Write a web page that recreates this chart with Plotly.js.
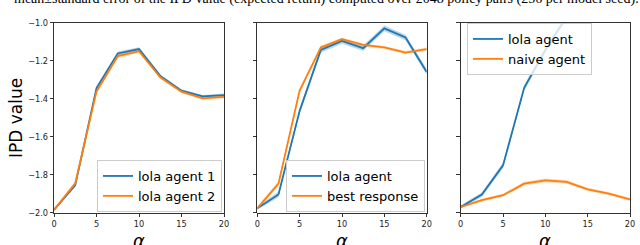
<!DOCTYPE html>
<html>
<head>
<meta charset="utf-8">
<script src="https://cdn.plot.ly/plotly-3.0.1.min.js"></script>
<style>html,body{margin:0;padding:0;background:#fff;}#chart{width:640px;height:245px;}</style>
</head>
<body>
<div id="chart"></div>
<script>
// alpha values (x axis)
const alphaVals = [0, 2.5, 5, 7.5, 10, 12.5, 15, 17.5, 20];

// Panel 1: lola vs lola
const p1Agent1 = [-1.985, -1.855, -1.344, -1.162, -1.139, -1.280, -1.358, -1.388, -1.381];
const p1Agent1Err = [0.006, 0.010, 0.010, 0.010, 0.010, 0.008, 0.008, 0.008, 0.008];
const p1Agent2 = [-1.985, -1.845, -1.362, -1.176, -1.150, -1.287, -1.363, -1.398, -1.390];
const p1Agent2Err = [0.006, 0.010, 0.010, 0.010, 0.010, 0.008, 0.008, 0.008, 0.008];

// Panel 2: lola vs best response
const p2Lola = [-1.977, -1.904, -1.464, -1.143, -1.096, -1.134, -1.030, -1.078, -1.259];
const p2LolaErr = [0.008, 0.015, 0.015, 0.015, 0.015, 0.015, 0.015, 0.015, 0.015];
const p2Best = [-1.977, -1.847, -1.357, -1.130, -1.087, -1.117, -1.130, -1.157, -1.139];
const p2BestErr = [0.008, 0.012, 0.010, 0.010, 0.008, 0.008, 0.008, 0.008, 0.008];

// Panel 3: lola vs naive
const p3Lola = [-1.970, -1.904, -1.751, -1.343, -1.144, -0.970, -0.850, -0.760, -0.700];
const p3LolaErr = [0.008, 0.012, 0.015, 0.015, 0.015, 0.015, 0.015, 0.015, 0.015];
const p3Naive = [-1.970, -1.934, -1.908, -1.847, -1.830, -1.838, -1.877, -1.900, -1.930];
const p3NaiveErr = [0.006, 0.008, 0.008, 0.010, 0.010, 0.010, 0.008, 0.008, 0.008];

const xTicks = [0, 5, 10, 15, 20];
const yTicks = [-2.0, -1.8, -1.6, -1.4, -1.2, -1.0];
const yTickText = ['\u22122.0', '\u22121.8', '\u22121.6', '\u22121.4', '\u22121.2', '\u22121.0'];

const labels = {
  p1: ['lola agent 1', 'lola agent 2'],
  p2: ['lola agent', 'best response'],
  p3: ['lola agent', 'naive agent']
};
const titleText = 'mean\u00B1standard error of the IPD value (expected return) computed over 2048 policy pairs (256 per model seed).';

const BLUE = '#1f77b4', ORANGE = '#ff7f0e';
const BLUE_F = 'rgba(31,119,180,0.3)', ORANGE_F = 'rgba(255,127,14,0.3)';

function band(y, e, xa, ya, fill) {
  const lo = y.map((v, i) => v - e[i]);
  const hi = y.map((v, i) => v + e[i]);
  return [
    {x: alphaVals, y: lo, xaxis: xa, yaxis: ya, mode: 'lines', line: {width: 0, color: fill}, showlegend: false, hoverinfo: 'skip'},
    {x: alphaVals, y: hi, xaxis: xa, yaxis: ya, mode: 'lines', line: {width: 0, color: fill}, fill: 'tonexty', fillcolor: fill, showlegend: false, hoverinfo: 'skip'}
  ];
}
function line(y, xa, ya, color, name, leg) {
  return {x: alphaVals, y: y, xaxis: xa, yaxis: ya, mode: 'lines', line: {color: color, width: 1.8}, name: name, legend: leg, showlegend: true};
}

const data = [].concat(
  band(p1Agent1, p1Agent1Err, 'x', 'y', BLUE_F),
  band(p1Agent2, p1Agent2Err, 'x', 'y', ORANGE_F),
  [line(p1Agent1, 'x', 'y', BLUE, labels.p1[0], 'legend'), line(p1Agent2, 'x', 'y', ORANGE, labels.p1[1], 'legend')],
  band(p2Lola, p2LolaErr, 'x2', 'y2', BLUE_F),
  band(p2Best, p2BestErr, 'x2', 'y2', ORANGE_F),
  [line(p2Lola, 'x2', 'y2', BLUE, labels.p2[0], 'legend2'), line(p2Best, 'x2', 'y2', ORANGE, labels.p2[1], 'legend2')],
  band(p3Lola, p3LolaErr, 'x3', 'y3', BLUE_F),
  band(p3Naive, p3NaiveErr, 'x3', 'y3', ORANGE_F),
  [line(p3Lola, 'x3', 'y3', BLUE, labels.p3[0], 'legend3'), line(p3Naive, 'x3', 'y3', ORANGE, labels.p3[1], 'legend3')]
);

const W = 640, H = 245;
const yTop = 22.7, yBot = 212.7;
const ydom = [1 - yBot / H, 1 - yTop / H];
const panels = [[54, 224], [257.3, 426.7], [460.7, 630]];

const tickFont = {family: 'DejaVu Sans', size: 8.2, color: '#222'};
function xax(i, anchor) {
  return {domain: [panels[i][0] / W, panels[i][1] / W], anchor: anchor, range: [0, 20], tickvals: xTicks,
    ticks: 'outside', ticklen: 3.5, tickwidth: 0.8, tickcolor: '#000', showline: true, linecolor: '#000', linewidth: 0.8,
    mirror: true, showgrid: false, zeroline: false, tickfont: tickFont, fixedrange: true};
}
function yax(i, anchor, showLabels) {
  return {domain: ydom, anchor: anchor, range: [-2.0, -1.0], tickvals: yTicks, ticktext: yTickText, showticklabels: showLabels,
    ticks: 'outside', ticklen: 3.5, tickwidth: 0.8, tickcolor: '#000', showline: true, linecolor: '#000', linewidth: 0.8,
    mirror: true, showgrid: false, zeroline: false, tickfont: tickFont, fixedrange: true};
}

const legBase = {bgcolor: 'rgba(255,255,255,0.8)', bordercolor: '#cccccc', borderwidth: 1,
  font: {family: 'DejaVu Sans', size: 13, color: '#000'}, itemwidth: 30, tracegroupgap: 0, traceorder: 'normal'};

const annots = [
  {text: titleText, xref: 'paper', yref: 'paper', x: 326 / W, y: 1 + 0.5 / H, xanchor: 'center', yanchor: 'middle',
    showarrow: false, font: {family: 'Liberation Serif', size: 14, color: '#000'}},
  {text: 'IPD value', xref: 'paper', yref: 'paper', x: 16 / W, y: 1 - 118 / H, xanchor: 'center', yanchor: 'middle',
    textangle: -90, showarrow: false, font: {family: 'DejaVu Sans', size: 17, color: '#000'}}
];
panels.forEach(p => {
  annots.push({text: '<i>\u03B1</i>', xref: 'paper', yref: 'paper', x: (p[0] + p[1]) / 2 / W, y: 1 - 240 / H,
    xanchor: 'center', yanchor: 'middle', showarrow: false, font: {family: 'DejaVu Sans', size: 18, color: '#000'}});
});

const layout = {
  width: W, height: H, margin: {l: 0, r: 0, t: 0, b: 0}, paper_bgcolor: '#fff', plot_bgcolor: '#fff',
  xaxis: xax(0, 'y'), yaxis: yax(0, 'x', true),
  xaxis2: xax(1, 'y2'), yaxis2: yax(1, 'x2', false),
  xaxis3: xax(2, 'y3'), yaxis3: yax(2, 'x3', false),
  legend: Object.assign({}, legBase, {x: 222 / W, y: 1 - 212 / H, xanchor: 'right', yanchor: 'bottom'}),
  legend2: Object.assign({}, legBase, {x: 425 / W, y: 1 - 212 / H, xanchor: 'right', yanchor: 'bottom'}),
  legend3: Object.assign({}, legBase, {x: 467 / W, y: 1 - 23 / H, xanchor: 'left', yanchor: 'top'}),
  annotations: annots,
  showlegend: true
};

Plotly.newPlot('chart', data, layout, {displayModeBar: false, staticPlot: true});
</script>
</body>
</html>
